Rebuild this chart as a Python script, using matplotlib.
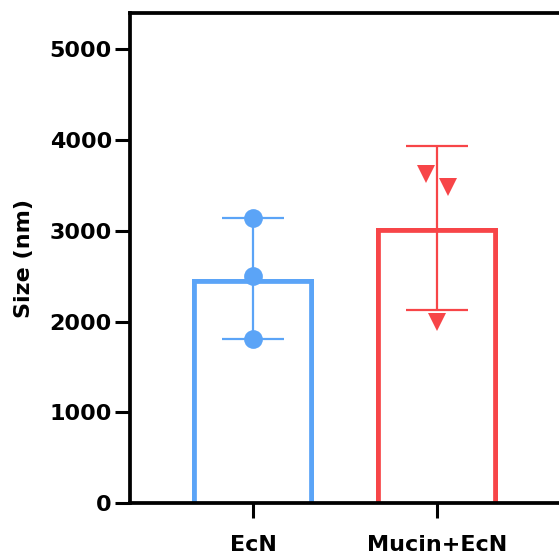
import matplotlib
matplotlib.use("Agg")
import matplotlib.pyplot as plt
from matplotlib.patches import Rectangle
import numpy as np

categories = ["EcN", "Mucin+EcN"]
means = [2471, 3030]
sds = [666, 905]
points_ecn = [3137, 2505, 1805]
points_mucin = [3626, 3476, 1993]
yticks = [0, 1000, 2000, 3000, 4000, 5000]

colors = ["#5BA4F7", "#F74548"]
markers = ["o", "v"]
spread = [[0.0, 0.0, 0.0], [-0.061, 0.06, 0.0]]
all_points = [points_ecn, points_mucin]

plt.rcParams["font.family"] = ["DejaVu Sans"]
plt.rcParams["font.weight"] = "bold"

fig = plt.figure(figsize=(5.59, 5.54), dpi=100)
ax = fig.add_axes([130 / 559, 50.7 / 554, 436 / 559, 490.6 / 554])
ax.set_xlim(-0.67, 1.70)
ax.set_ylim(0, 5400)

bar_w = 0.665
lw_bar = 3.5
for i, (m, c) in enumerate(zip(means, colors)):
    x0, x1 = i - bar_w / 2, i + bar_w / 2
    clip = Rectangle((x0, 0), bar_w, m, fill=False, linewidth=0)
    ax.add_patch(clip)
    line, = ax.plot([x0, x0, x1, x1], [0, m, m, 0], color=c, lw=2 * lw_bar,
                    solid_joinstyle="miter", solid_capstyle="butt", zorder=2)
    line.set_clip_path(clip)
    ax.errorbar(i, m, yerr=sds[i], fmt="none", ecolor=c, elinewidth=1.6,
                capsize=22, capthick=1.6, zorder=3)
    ax.plot(np.array(spread[i]) + i, all_points[i], linestyle="none",
            marker=markers[i], markersize=13.5, color=c, markeredgewidth=0,
            zorder=4)

ax.set_xticks(range(len(categories)))
ax.set_xticklabels(categories, fontsize=16, fontweight="bold")
ax.set_yticks(yticks)
ax.set_yticklabels([str(t) for t in yticks], fontsize=16, fontweight="bold")
ax.set_ylabel("Size (nm)", fontsize=16, fontweight="bold", labelpad=11)

for s in ["left", "bottom", "top"]:
    ax.spines[s].set_linewidth(2.7)
ax.spines["right"].set_visible(False)
ax.tick_params(axis="both", width=2.2, length=11)
ax.tick_params(axis="y", pad=2)
ax.tick_params(axis="x", pad=11.5)

fig.savefig("out.png", dpi=100)
